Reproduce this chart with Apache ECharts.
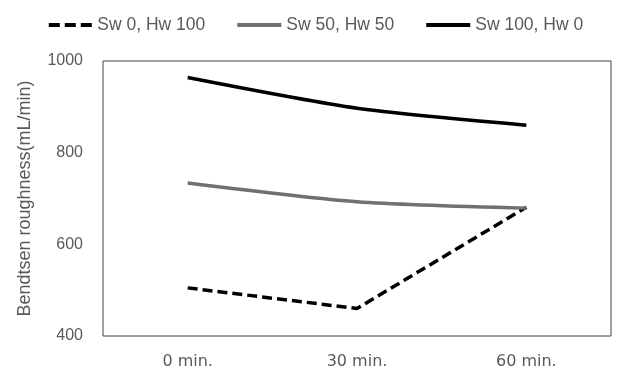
<!DOCTYPE html>
<html><head><meta charset="utf-8">
<script src="https://cdn.jsdelivr.net/npm/echarts@6/dist/echarts.min.js"></script>
<style>html,body{margin:0;padding:0;background:#fff}#c{width:632px;height:381px}</style>
</head><body><div id="c"></div>
<script>
const categories = ['0 min.', '30 min.', '60 min.'];
const seriesNames = ['Sw 0, Hw 100', 'Sw 50, Hw 50', 'Sw 100, Hw 0'];
const sw0 = [505, 460, 681];
const sw50 = [734, 693, 679];
const sw100 = [964, 897, 860];
const yTicks = [400, 600, 800, 1000];

const dashIcon = 'path://M0,0h11v4h-11z M16,0h11v4h-11z M32,0h11v4h-11z';
const solidIcon = 'path://M0,0h44v4h-44z';

const chart = echarts.init(document.getElementById('c'));
chart.setOption({
  animation: false,
  textStyle: { fontFamily: 'Liberation Sans' },
  legend: {
    top: 11, left: 'center',
    itemWidth: 44, itemHeight: 4, itemGap: 32,
    textStyle: { fontSize: 17.5, color: '#595959', fontFamily: 'Liberation Sans' },
    data: [
      { name: seriesNames[0], icon: dashIcon },
      { name: seriesNames[1], icon: solidIcon },
      { name: seriesNames[2], icon: solidIcon }
    ]
  },
  grid: { left: 103, right: 21, top: 61, bottom: 45, show: true, borderColor: '#404040', borderWidth: 1 },
  xAxis: {
    type: 'category', data: categories, boundaryGap: true,
    axisLine: { show: false }, axisTick: { show: false },
    axisLabel: { fontSize: 16, color: '#595959', margin: 18, fontFamily: 'DejaVu Sans' },
    splitLine: { show: false }
  },
  yAxis: {
    type: 'value', min: yTicks[0], max: yTicks[yTicks.length - 1], interval: 200,
    axisLine: { show: false }, axisTick: { show: false }, splitLine: { show: false },
    axisLabel: { fontSize: 16, color: '#595959', margin: 20, formatter: v => String(v) },
    name: 'Bendtsen roughness(mL/min)', nameLocation: 'middle', nameGap: 69, nameRotate: 90,
    nameTextStyle: { fontSize: 18, color: '#595959' }
  },
  series: [
    { name: seriesNames[0], type: 'line', data: sw0, symbol: 'none',
      lineStyle: { color: '#000', width: 3.5, type: [10, 5] }, itemStyle: { color: '#000' } },
    { name: seriesNames[1], type: 'line', data: sw50, symbol: 'none', smooth: 0.25,
      lineStyle: { color: '#707070', width: 3.5 }, itemStyle: { color: '#707070' } },
    { name: seriesNames[2], type: 'line', data: sw100, symbol: 'none', smooth: 0.25,
      lineStyle: { color: '#000', width: 3.5 }, itemStyle: { color: '#000' } }
  ]
});
</script></body></html>
